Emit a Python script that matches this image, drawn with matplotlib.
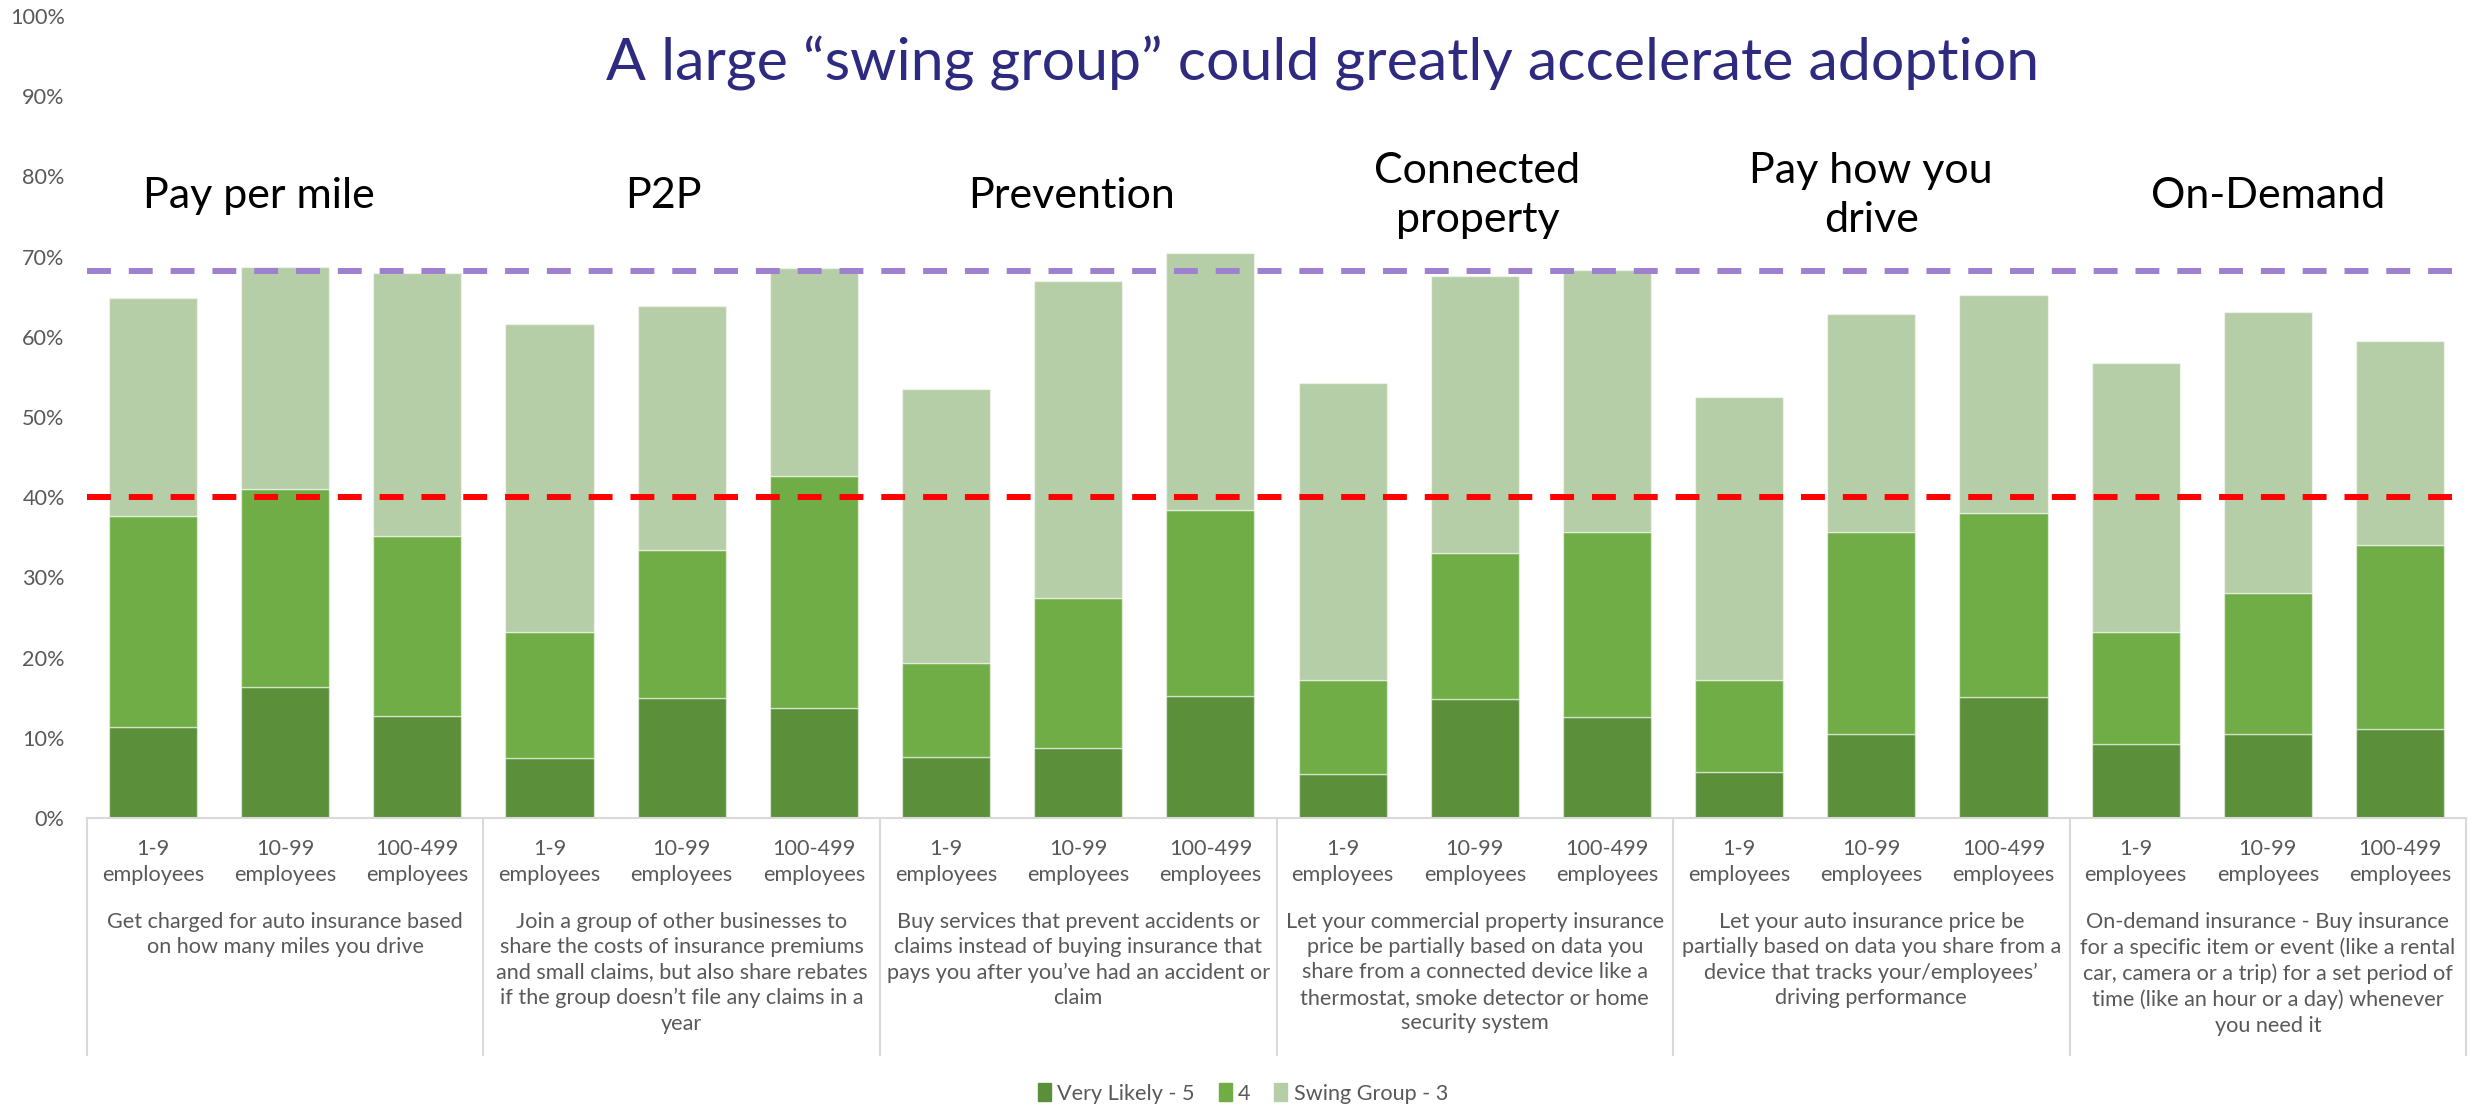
import numpy as np
import matplotlib
matplotlib.use('Agg')
from matplotlib import pyplot as plt
from matplotlib import transforms
from matplotlib.patches import Patch

plt.rcParams['font.family'] = ['Liberation Sans Narrow', 'Lato', 'DejaVu Sans']

# survey data (share of respondents), three company sizes per product idea
products = ['Pay per mile', 'P2P', 'Prevention', 'Connected\nproperty',
            'Pay how you\ndrive', 'On-Demand']
sizes = ['1-9\nemployees', '10-99\nemployees', '100-499\nemployees']
descriptions = [
    'Get charged for auto insurance based\non how many miles you drive',
    'Join a group of other businesses to\nshare the costs of insurance premiums\n'
    'and small claims, but also share rebates\nif the group doesn\u2019t file any claims in a\nyear',
    'Buy services that prevent accidents or\nclaims instead of buying insurance that\n'
    'pays you after you\u2019ve had an accident or\nclaim',
    'Let your commercial property insurance\nprice be partially based on data you\n'
    'share from a connected device like a\nthermostat, smoke detector or home\nsecurity system',
    'Let your auto insurance price be\npartially based on data you share from a\n'
    'device that tracks your/employees\u2019\ndriving performance',
    'On-demand insurance - Buy insurance\nfor a specific item or event (like a rental\n'
    'car, camera or a trip) for a set period of\ntime (like an hour or a day) whenever\nyou need it',
]

# cumulative levels read per bar: "very likely", "very likely + 4", total incl. swing group
very_likely = [11.3, 16.4, 12.7, 7.5, 15.0, 13.7, 7.6, 8.7, 15.2,
               5.5, 14.9, 12.6, 5.8, 10.5, 15.1, 9.2, 10.5, 11.1]
top_4 = [37.7, 41.0, 35.2, 23.2, 33.4, 42.6, 19.3, 27.5, 38.4,
         17.2, 33.0, 35.7, 17.2, 35.7, 38.1, 23.2, 28.1, 34.1]
top_total = [64.9, 68.7, 68.0, 61.6, 63.9, 68.6, 53.5, 67.0, 70.5,
             54.3, 67.6, 68.3, 52.5, 62.9, 65.2, 56.8, 63.1, 59.5]

adoption_line = 40.0
swing_line = 68.2

v5 = np.array(very_likely) / 100
v4 = (np.array(top_4) - np.array(very_likely)) / 100
v3 = (np.array(top_total) - np.array(top_4)) / 100

c5, c4, c3 = '#5B8F3A', '#70AD47', '#B5CEA7'
grey = '#595959'
rule = '#D9D9D9'
small = 15.6

fig = plt.figure(figsize=(24.76, 11.07), dpi=100)
ax = fig.add_axes([0.0351, 0.261, 0.9609, 0.7245])

x = np.arange(len(very_likely))
wi = 0.667
edge = dict(edgecolor=(1, 1, 1, 0.5), linewidth=1)
ax.bar(x, v5, wi, color=c5, label='Very Likely - 5', **edge)
ax.bar(x, v4, wi, bottom=v5, color=c4, label='4', **edge)
ax.bar(x, v3, wi, bottom=v5 + v4, color=c3, label='Swing Group - 3', **edge)

ax.axhline(adoption_line / 100, color='#FF0000', lw=4.3, dashes=(4, 3),
           dash_capstyle='butt', zorder=3)
ax.axhline(swing_line / 100, color='#9E80D0', lw=4.3, dashes=(4, 3),
           dash_capstyle='butt', zorder=3)

ax.set_xlim(-0.5, len(x) - 0.5)
ax.set_ylim(0, 1)
ax.set_yticks(np.arange(0, 1.01, 0.1))
ax.set_yticklabels([f'{int(round(v * 100))}%' for v in np.arange(0, 1.01, 0.1)])
ax.set_xticks(x)
ax.set_xticklabels(sizes * len(products), linespacing=1.4)
ax.tick_params(axis='y', length=0, pad=16, labelsize=small, labelcolor=grey)
ax.tick_params(axis='x', length=0, pad=15, labelsize=small, labelcolor=grey)
for s in ['top', 'right', 'left']:
    ax.spines[s].set_visible(False)
ax.spines['bottom'].set_color(rule)
ax.spines['bottom'].set_linewidth(1.5)

# group separators running down through the category labels
trans = transforms.blended_transform_factory(ax.transData, ax.transAxes)
for b in np.arange(-0.5, len(x), 3):
    ax.plot([b, b], [0, -0.296], color=rule, lw=1.5, transform=trans,
            clip_on=False)

# product descriptions under each group
trans_fig = transforms.blended_transform_factory(ax.transData, fig.transFigure)
header_shift = [-0.2, -0.14, -0.05, 0.02, 0.0, 0.0]
for g, (name, desc) in enumerate(zip(products, descriptions)):
    cx = 3 * g + 1
    ax.text(cx, 0.1765, desc, transform=trans_fig, ha='center', va='top',
            fontsize=small, color=grey, linespacing=1.34)
    ax.text(cx + header_shift[g], 0.776, name, ha='center', va='center',
            fontsize=31, color='black', linespacing=1.35)

fig.text(0.534, 0.943, 'A large \u201cswing group\u201d could greatly accelerate adoption',
         ha='center', va='center', fontsize=42.5, color='#2E2A80')

handles = [Patch(color=c5), Patch(color=c4), Patch(color=c3)]
fig.legend(handles, ['Very Likely - 5', '4', 'Swing Group - 3'], ncol=3,
           loc='center', bbox_to_anchor=(0.502, 0.012), frameon=False,
           fontsize=small, labelcolor=grey, handlelength=0.6, handleheight=0.9,
           handletextpad=0.3, columnspacing=1.1)

fig.savefig('out.png', dpi=100)
